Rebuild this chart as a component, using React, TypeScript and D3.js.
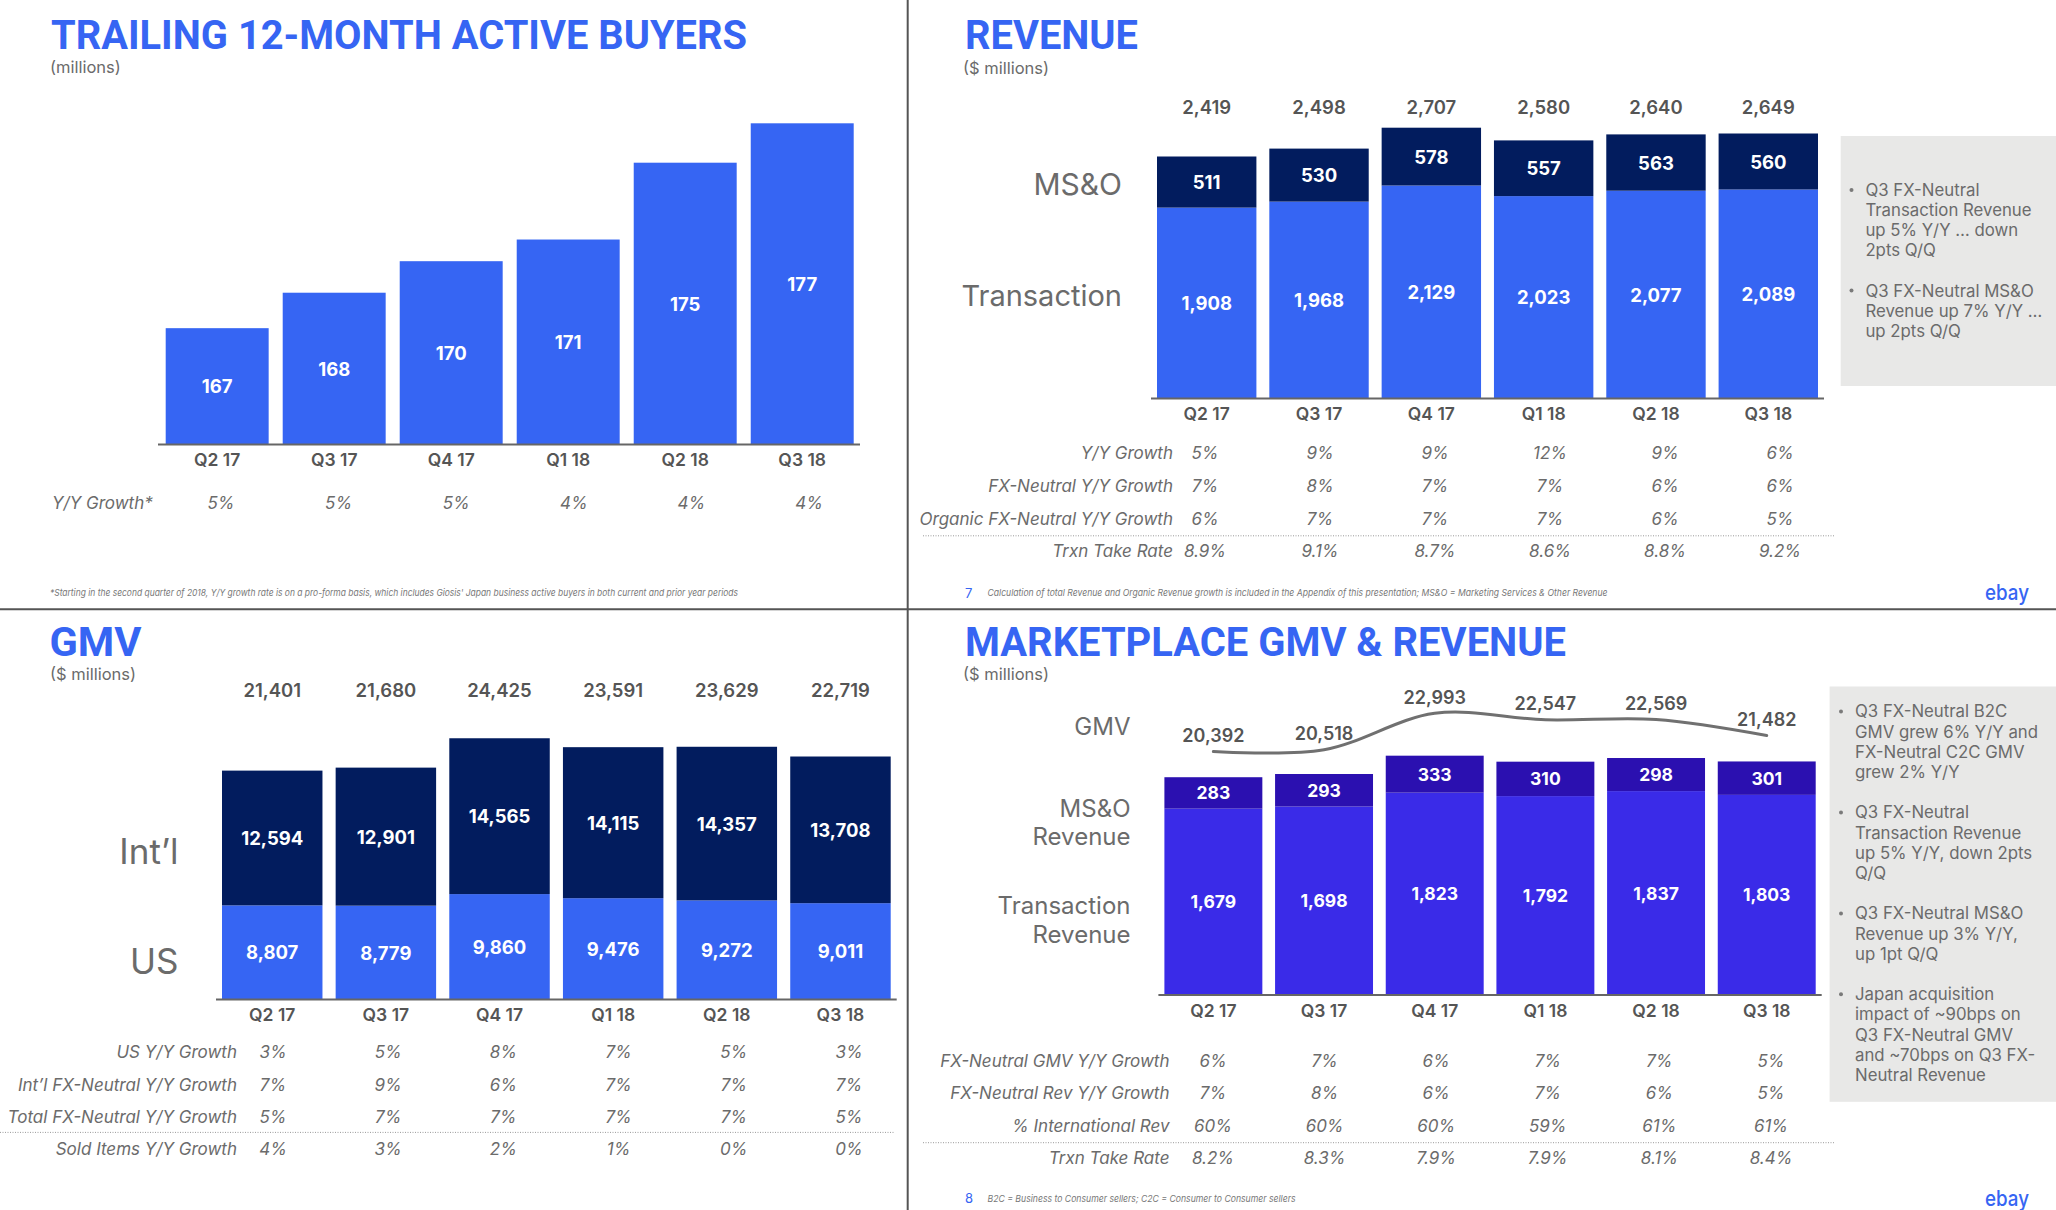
import React from "react";
import * as d3 from "d3";

// ---------- DATA ----------
const quarters = ["Q2 17", "Q3 17", "Q4 17", "Q1 18", "Q2 18", "Q3 18"];

// Trailing 12-month active buyers (millions)
const activeBuyers = [166.6, 168.4, 170.0, 171.1, 175.0, 177.0];
const buyersYoY = ["5%", "5%", "5%", "4%", "4%", "4%"];

// Revenue ($ millions)
const revTransaction = [1908, 1968, 2129, 2023, 2077, 2089];
const revMSO = [511, 530, 578, 557, 563, 560];
const revYoY = ["5%", "9%", "9%", "12%", "9%", "6%"];
const revFxYoY = ["7%", "8%", "7%", "7%", "6%", "6%"];
const revOrgFxYoY = ["6%", "7%", "7%", "7%", "6%", "5%"];
const revTakeRate = ["8.9%", "9.1%", "8.7%", "8.6%", "8.8%", "9.2%"];
const revenueNotes = [
  ["Q3 FX-Neutral", "Transaction Revenue", "up 5% Y/Y … down", "2pts Q/Q"],
  ["Q3 FX-Neutral MS&O", "Revenue up 7% Y/Y …", "up 2pts Q/Q"],
];

// GMV ($ millions)
const gmvUS = [8807, 8779, 9860, 9476, 9272, 9011];
const gmvIntl = [12594, 12901, 14565, 14115, 14357, 13708];
const gmvUSYoY = ["3%", "5%", "8%", "7%", "5%", "3%"];
const gmvIntlYoY = ["7%", "9%", "6%", "7%", "7%", "7%"];
const gmvTotalYoY = ["5%", "7%", "7%", "7%", "7%", "5%"];
const soldItemsYoY = ["4%", "3%", "2%", "1%", "0%", "0%"];

// Marketplace GMV & revenue ($ millions)
const mktTransaction = [1679, 1698, 1823, 1792, 1837, 1803];
const mktMSO = [283, 293, 333, 310, 298, 301];
const mktGMV = [20392, 20518, 22993, 22547, 22569, 21482];
const mktGmvYoY = ["6%", "7%", "6%", "7%", "7%", "5%"];
const mktRevYoY = ["7%", "8%", "6%", "7%", "6%", "5%"];
const mktIntlRev = ["60%", "60%", "60%", "59%", "61%", "61%"];
const mktTakeRate = ["8.2%", "8.3%", "7.9%", "7.9%", "8.1%", "8.4%"];
const marketplaceNotes = [
  ["Q3 FX-Neutral B2C", "GMV grew 6% Y/Y and", "FX-Neutral C2C GMV", "grew 2% Y/Y"],
  ["Q3 FX-Neutral", "Transaction Revenue", "up 5% Y/Y, down 2pts", "Q/Q"],
  ["Q3 FX-Neutral MS&O", "Revenue up 3% Y/Y,", "up 1pt Q/Q"],
  ["Japan acquisition", "impact of ~90bps on", "Q3 FX-Neutral GMV", "and ~70bps on Q3 FX-", "Neutral Revenue"],
];

// ---------- STYLE ----------
const FONT = "Inter, 'Open Sans', Roboto, sans-serif";
const TITLE_FONT = "Roboto, Inter, sans-serif";
const BLUE = "#3665f3";
const NAVY = "#021c5e";
const VIOLET = "#3a2be8";
const DEEP_VIOLET = "#2b10b0";
const TXT = "#6b6b6b";
const DARK_TXT = "#555555";
const fmt = d3.format(",");

function Title({ x, y, text, width }) {
  return (
    <text x={x} y={y} fontFamily={TITLE_FONT} fontWeight={700} fontSize={41} fill={BLUE}
      textLength={width} lengthAdjust="spacingAndGlyphs">{text}</text>
  );
}

function Subtitle({ x, y, text }) {
  return (
    <text x={x} y={y} fontFamily={FONT} fontSize={16.5} fill={TXT} dominantBaseline="central">{text}</text>
  );
}

function XLabels({ x, y }) {
  return (
    <g>
      {quarters.map((q) => (
        <text key={q} x={x(q) + x.bandwidth() / 2} y={y} textAnchor="middle" dominantBaseline="central"
          fontFamily={FONT} fontWeight={600} fontSize={17.5} fill={DARK_TXT}>{q}</text>
      ))}
    </g>
  );
}

function Table({ rows, labelX, col, ys, dotted }) {
  return (
    <g fontFamily={FONT} fontStyle="italic" fontSize={17} fill={TXT}>
      {rows.map((r, ri) => (
        <g key={r.label}>
          <text x={labelX} y={ys[ri]} textAnchor="end" dominantBaseline="central">{r.label}</text>
          {r.values.map((v, i) => (
            <text key={i} x={col(quarters[i])} y={ys[ri]} textAnchor="middle" dominantBaseline="central">{v}</text>
          ))}
        </g>
      ))}
      {dotted && (
        <line x1={dotted.x1} x2={dotted.x2} y1={dotted.y} y2={dotted.y} stroke="#9a9a9a"
          strokeWidth={1} strokeDasharray="1 1.5" />
      )}
    </g>
  );
}

function Notes({ box, notes, textX, dotX, y0, step }) {
  let k = 0;
  const items = [];
  notes.forEach((lines, bi) => {
    lines.forEach((ln, li) => {
      const y = y0 + (k + bi) * step;
      if (li === 0) items.push(<circle key={`d${bi}`} cx={dotX} cy={y} r={2} fill="#7a7a7a" />);
      items.push(
        <text key={`${bi}-${li}`} x={textX} y={y} dominantBaseline="central" fontFamily={FONT}
          fontSize={16.8} fill={TXT}>{ln}</text>
      );
      k++;
    });
  });
  return (
    <g>
      <rect x={box.x} y={box.y} width={box.w} height={box.h} fill="#e8e8e7" />
      {items}
    </g>
  );
}

function Footer({ num, x, y, text, width }) {
  return (
    <g>
      {num && (
        <text x={x} y={y} dominantBaseline="central" fontFamily={FONT} fontSize={13} fill={BLUE}>{num}</text>
      )}
      <text x={num ? x + 22.5 : x} y={y} dominantBaseline="central" fontFamily={FONT} fontStyle="italic"
        fontSize={9.5} fill="#777" textLength={width} lengthAdjust="spacingAndGlyphs">{text}</text>
    </g>
  );
}

function Logo({ x, y }) {
  return (
    <text x={x} y={y} dominantBaseline="central" fontFamily={FONT} fontWeight={500} fontSize={22} fill={BLUE}
      textLength={44} lengthAdjust="spacingAndGlyphs">ebay</text>
  );
}

// Generic two-segment stacked bars
function Stacked({ x, y, baseline, bottom, top, cBottom, cTop, labelSize, totalY }) {
  const rows = quarters.map((q, i) => ({ q, bottom: bottom[i], top: top[i] }));
  const series = d3.stack().keys(["bottom", "top"])(rows);
  const colors = [cBottom, cTop];
  return (
    <g>
      {series.map((s, si) => (
        <g key={si}>
          {s.map((d, i) => (
            <g key={i}>
              <rect x={x(quarters[i])} y={y(d[1])} width={x.bandwidth()} height={y(d[0]) - y(d[1])} fill={colors[si]} />
              <text x={x(quarters[i]) + x.bandwidth() / 2} y={(y(d[0]) + y(d[1])) / 2} textAnchor="middle"
                dominantBaseline="central" fontFamily={FONT} fontWeight={700} fontSize={labelSize} fill="#fff">
                {fmt(si === 0 ? bottom[i] : top[i])}
              </text>
            </g>
          ))}
        </g>
      ))}
      {totalY !== undefined && rows.map((r, i) => (
        <text key={`t${i}`} x={x(quarters[i]) + x.bandwidth() / 2} y={totalY} textAnchor="middle"
          dominantBaseline="central" fontFamily={FONT} fontWeight={600} fontSize={18.5} fill={DARK_TXT}>
          {fmt(r.bottom + r.top)}
        </text>
      ))}
      <line x1={x.range()[0] - 6} x2={x.range()[1] + 6} y1={baseline} y2={baseline} stroke="#666" strokeWidth={2} />
    </g>
  );
}

function SideLabel({ x, ys, lines, size }) {
  return (
    <g>
      {lines.map((l, i) => (
        <text key={i} x={x} y={ys[i]} textAnchor="end" dominantBaseline="central" fontFamily={FONT}
          fontSize={size} fill={TXT}>{l}</text>
      ))}
    </g>
  );
}

// ---------- PANELS ----------
function BuyersPanel() {
  const x = d3.scaleBand().domain(quarters).range([165.7, 853.7]).paddingInner(0.12).paddingOuter(0);
  const y = d3.scaleLinear().domain([160.7, 177]).range([444.4, 123.3]);
  const col = d3.scalePoint().domain(quarters).range([221, 809]);
  const base = y(160.7);
  return (
    <g>
      <Title x={51} y={49} text="TRAILING 12-MONTH ACTIVE BUYERS" width={696} />
      <Subtitle x={50} y={67} text="(millions)" />
      {activeBuyers.map((v, i) => (
        <g key={i}>
          <rect x={x(quarters[i])} y={y(v)} width={x.bandwidth()} height={base - y(v)} fill={BLUE} />
          <text x={x(quarters[i]) + x.bandwidth() / 2} y={(y(v) + base) / 2} textAnchor="middle"
            dominantBaseline="central" fontFamily={FONT} fontWeight={700} fontSize={18.5} fill="#fff">
            {d3.format(".0f")(v)}
          </text>
        </g>
      ))}
      <line x1={158} x2={860} y1={base} y2={base} stroke="#666" strokeWidth={2} />
      <XLabels x={x} y={459} />
      <g fontFamily={FONT} fontStyle="italic" fontSize={17} fill={TXT}>
        <text x={52} y={503} dominantBaseline="central">Y/Y Growth*</text>
        {buyersYoY.map((v, i) => (
          <text key={i} x={col(quarters[i])} y={503} textAnchor="middle" dominantBaseline="central">{v}</text>
        ))}
      </g>
      <Footer x={50} y={592} width={688}
        text="*Starting in the second quarter of 2018, Y/Y growth rate is on a pro-forma basis, which includes Giosis' Japan business active buyers in both current and prior year periods" />
    </g>
  );
}

function RevenuePanel() {
  const x = d3.scaleBand().domain(quarters).range([1157, 1818]).paddingInner(0.115).paddingOuter(0);
  const maxV = d3.max(quarters.map((_, i) => revTransaction[i] + revMSO[i]));
  const base = 398.4;
  const y = d3.scaleLinear().domain([0, maxV]).range([base, base - 0.1 * maxV]);
  const col = d3.scalePoint().domain(quarters).range([1205, 1780]);
  return (
    <g>
      <Title x={965} y={49} text="REVENUE" width={173} />
      <Subtitle x={963} y={68} text="($ millions)" />
      <Stacked x={x} y={y} baseline={base} bottom={revTransaction} top={revMSO} cBottom={BLUE} cTop={NAVY}
        labelSize={18.5} totalY={107} />
      <SideLabel x={1122} ys={[183.7]} lines={["MS&O"]} size={30} />
      <SideLabel x={1122} ys={[295.7]} lines={["Transaction"]} size={29} />
      <XLabels x={x} y={413} />
      <Table labelX={1173} col={col} ys={[453.3, 486.4, 518.7, 550.6]}
        rows={[
          { label: "Y/Y Growth", values: revYoY },
          { label: "FX-Neutral Y/Y Growth", values: revFxYoY },
          { label: "Organic FX-Neutral Y/Y Growth", values: revOrgFxYoY },
          { label: "Trxn Take Rate", values: revTakeRate },
        ]}
        dotted={{ x1: 923, x2: 1835, y: 535.8 }} />
      <Notes box={{ x: 1840.7, y: 136, w: 216, h: 250 }} notes={revenueNotes} textX={1865.4} dotX={1851.5}
        y0={190} step={20.1} />
      <Footer num="7" x={965} y={592.5} width={620}
        text="Calculation of total Revenue and Organic Revenue growth is included in the Appendix of this presentation; MS&O = Marketing Services & Other Revenue" />
      <Logo x={1985} y={592} />
    </g>
  );
}

function GMVPanel() {
  const x = d3.scaleBand().domain(quarters).range([222, 890.7]).paddingInner(0.116).paddingOuter(0);
  const maxV = d3.max(quarters.map((_, i) => gmvUS[i] + gmvIntl[i]));
  const base = 999.6;
  const y = d3.scaleLinear().domain([0, maxV]).range([base, base - 0.0107 * maxV]);
  const col = d3.scalePoint().domain(quarters).range([273, 849]);
  return (
    <g>
      <Title x={49.5} y={656} text="GMV" width={92} />
      <Subtitle x={50} y={674} text="($ millions)" />
      <Stacked x={x} y={y} baseline={base} bottom={gmvUS} top={gmvIntl} cBottom={BLUE} cTop={NAVY}
        labelSize={18.5} totalY={689.6} />
      <SideLabel x={178.5} ys={[851]} lines={["Int’l"]} size={35} />
      <SideLabel x={178.5} ys={[961]} lines={["US"]} size={35} />
      <XLabels x={x} y={1014.5} />
      <Table labelX={237} col={col} ys={[1052, 1084.6, 1117, 1148.8]}
        rows={[
          { label: "US Y/Y Growth", values: gmvUSYoY },
          { label: "Int’l FX-Neutral Y/Y Growth", values: gmvIntlYoY },
          { label: "Total FX-Neutral Y/Y Growth", values: gmvTotalYoY },
          { label: "Sold Items Y/Y Growth", values: soldItemsYoY },
        ]}
        dotted={{ x1: 0, x2: 894, y: 1132.4 }} />
    </g>
  );
}

function MarketplacePanel() {
  const x = d3.scaleBand().domain(quarters).range([1164.4, 1815.7]).paddingInner(0.115).paddingOuter(0);
  const maxV = d3.max(quarters.map((_, i) => mktTransaction[i] + mktMSO[i]));
  const base = 995;
  const y = d3.scaleLinear().domain([0, maxV]).range([base, base - 0.111 * maxV]);
  const col = d3.scalePoint().domain(quarters).range([1213, 1771]);
  const yLine = d3.scaleLinear().domain([d3.min(mktGMV), d3.max(mktGMV)]).range([751.6, 713.3]);
  const cx = (i) => x(quarters[i]) + x.bandwidth() / 2;
  const line = d3.line().x((d, i) => cx(i)).y((d) => yLine(d)).curve(d3.curveCatmullRom.alpha(0.5));
  return (
    <g>
      <Title x={965} y={656} text="MARKETPLACE GMV & REVENUE" width={601} />
      <Subtitle x={963} y={674} text="($ millions)" />
      <Stacked x={x} y={y} baseline={base} bottom={mktTransaction} top={mktMSO} cBottom={VIOLET} cTop={DEEP_VIOLET}
        labelSize={17.5} />
      <path d={line(mktGMV)} fill="none" stroke="#707070" strokeWidth={3} strokeLinecap="round" />
      {mktGMV.map((v, i) => (
        <text key={i} x={cx(i)} y={yLine(v) - 16} textAnchor="middle" dominantBaseline="central" fontFamily={FONT}
          fontWeight={600} fontSize={18} fill={DARK_TXT}>{fmt(v)}</text>
      ))}
      <SideLabel x={1130.5} ys={[726.7]} lines={["GMV"]} size={24} />
      <SideLabel x={1130.5} ys={[808, 836.5]} lines={["MS&O", "Revenue"]} size={24} />
      <SideLabel x={1130.5} ys={[905.8, 934.5]} lines={["Transaction", "Revenue"]} size={24} />
      <XLabels x={x} y={1010} />
      <Table labelX={1169.5} col={col} ys={[1060.8, 1093, 1126, 1158]}
        rows={[
          { label: "FX-Neutral GMV Y/Y Growth", values: mktGmvYoY },
          { label: "FX-Neutral Rev Y/Y Growth", values: mktRevYoY },
          { label: "% International Rev", values: mktIntlRev },
          { label: "Trxn Take Rate", values: mktTakeRate },
        ]}
        dotted={{ x1: 923, x2: 1835, y: 1142.7 }} />
      <Notes box={{ x: 1829.6, y: 686.5, w: 227, h: 415.3 }} notes={marketplaceNotes} textX={1855} dotX={1841}
        y0={711.4} step={20.2} />
      <Footer num="8" x={965} y={1198} width={308}
        text="B2C = Business to Consumer sellers; C2C = Consumer to Consumer sellers" />
      <Logo x={1985} y={1198} />
    </g>
  );
}

export default function App() {
  return (
    <svg width={2056} height={1210} viewBox="0 0 2056 1210"
      style={{ position: "absolute", left: 0, top: 0, display: "block", background: "#fff" }}>
      <rect width={2056} height={1210} fill="#fff" />
      <BuyersPanel />
      <RevenuePanel />
      <GMVPanel />
      <MarketplacePanel />
      <line x1={907.7} x2={907.7} y1={0} y2={1210} stroke="#555" strokeWidth={2} />
      <line x1={0} x2={2056} y1={609.3} y2={609.3} stroke="#555" strokeWidth={2} />
    </svg>
  );
}
